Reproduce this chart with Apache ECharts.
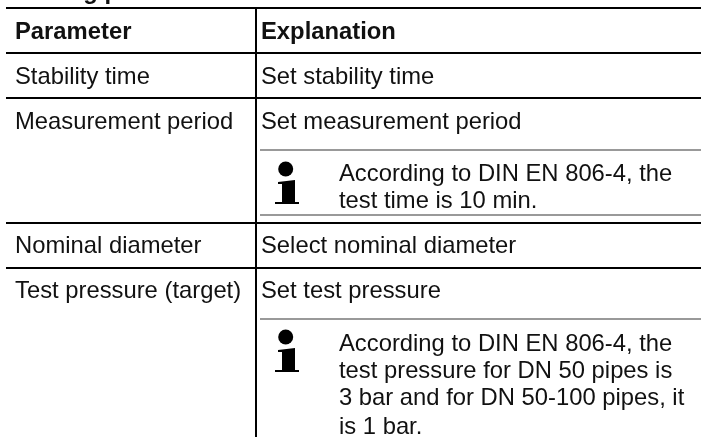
<!DOCTYPE html>
<html>
<head>
<meta charset="utf-8">
<style>
html,body{margin:0;padding:0;background:#fff;}
#divChart{width:701px;height:437px;}
</style>
<script src="https://cdn.jsdelivr.net/npm/echarts@6/dist/echarts.min.js"></script>
</head>
<body>
<div id="divChart"></div>
<script>
/** table content */
var titleText = 'Testing parameters';
var headers = ['Parameter', 'Explanation'];
var parameters = ['Stability time', 'Measurement period', 'Nominal diameter', 'Test pressure (target)'];
var explanations = ['Set stability time', 'Set measurement period', 'Select nominal diameter', 'Set test pressure'];
var note1 = ['According to DIN EN 806-4, the', 'test time is 10 min.'];
var note2 = ['According to DIN EN 806-4, the', 'test pressure for DN 50 pipes is', '3 bar and for DN 50-100 pipes, it', 'is 1 bar.'];

/** layout */
var fontSize = 23.8;
var colLeft = 15, colRight = 261, noteLeft = 339;
var textShift = 6.5;
var rowBase = [83.3, 127.7, 252.3, 297.3];
var note1Base = [180, 206.7];
var note2Base = [350, 377, 404, 433];
var blackRules = [8, 53, 98, 223, 268];
var greyRules = [150, 215, 319];
var iconTops = [169, 337];

function text(str, x, base, bold) {
	return {
		type: 'text',
		style: {
			text: str, x: x, y: base + textShift, verticalAlign: 'bottom',
			font: (bold ? 'bold ' : '') + fontSize + 'px "Liberation Sans"',
			fill: '#111'
		}
	};
}
function hline(y, x1, color) {
	return {type: 'rect', shape: {x: x1, y: y - 1, width: 701 - x1, height: 2}, style: {fill: color}};
}
function icon(cy) {
	return [
		{type: 'circle', shape: {cx: 285.7, cy: cy, r: 7.5}, style: {fill: '#000'}},
		{type: 'polygon', shape: {points: [[278, cy + 13], [295, cy + 11], [295, cy + 33], [299, cy + 33], [299, cy + 35], [275, cy + 35], [275, cy + 33], [282, cy + 33], [282, cy + 15], [278, cy + 15]]}, style: {fill: '#000'}}
	];
}

var elements = [];
elements.push(text(titleText, 15, -2, true));
blackRules.forEach(function (y) { elements.push(hline(y, 6, '#000')); });
greyRules.forEach(function (y) { elements.push(hline(y, 260, '#999')); });
elements.push({type: 'rect', shape: {x: 255, y: 7, width: 2, height: 430}, style: {fill: '#000'}});
elements.push(text(headers[0], colLeft, 38.3, true));
elements.push(text(headers[1], colRight, 38.3, true));
for (var i = 0; i < parameters.length; i++) {
	elements.push(text(parameters[i], colLeft, rowBase[i], false));
	elements.push(text(explanations[i], colRight, rowBase[i], false));
}
note1.forEach(function (s, k) { elements.push(text(s, noteLeft, note1Base[k], false)); });
note2.forEach(function (s, k) { elements.push(text(s, noteLeft, note2Base[k], false)); });
iconTops.forEach(function (y) { elements = elements.concat(icon(y)); });

var divChart = echarts.init(document.getElementById('divChart'));
var option = {
	backgroundColor: '#fff',
	animation: false,
	graphic: {elements: elements}
};
divChart.setOption(option);
</script>
</body>
</html>
